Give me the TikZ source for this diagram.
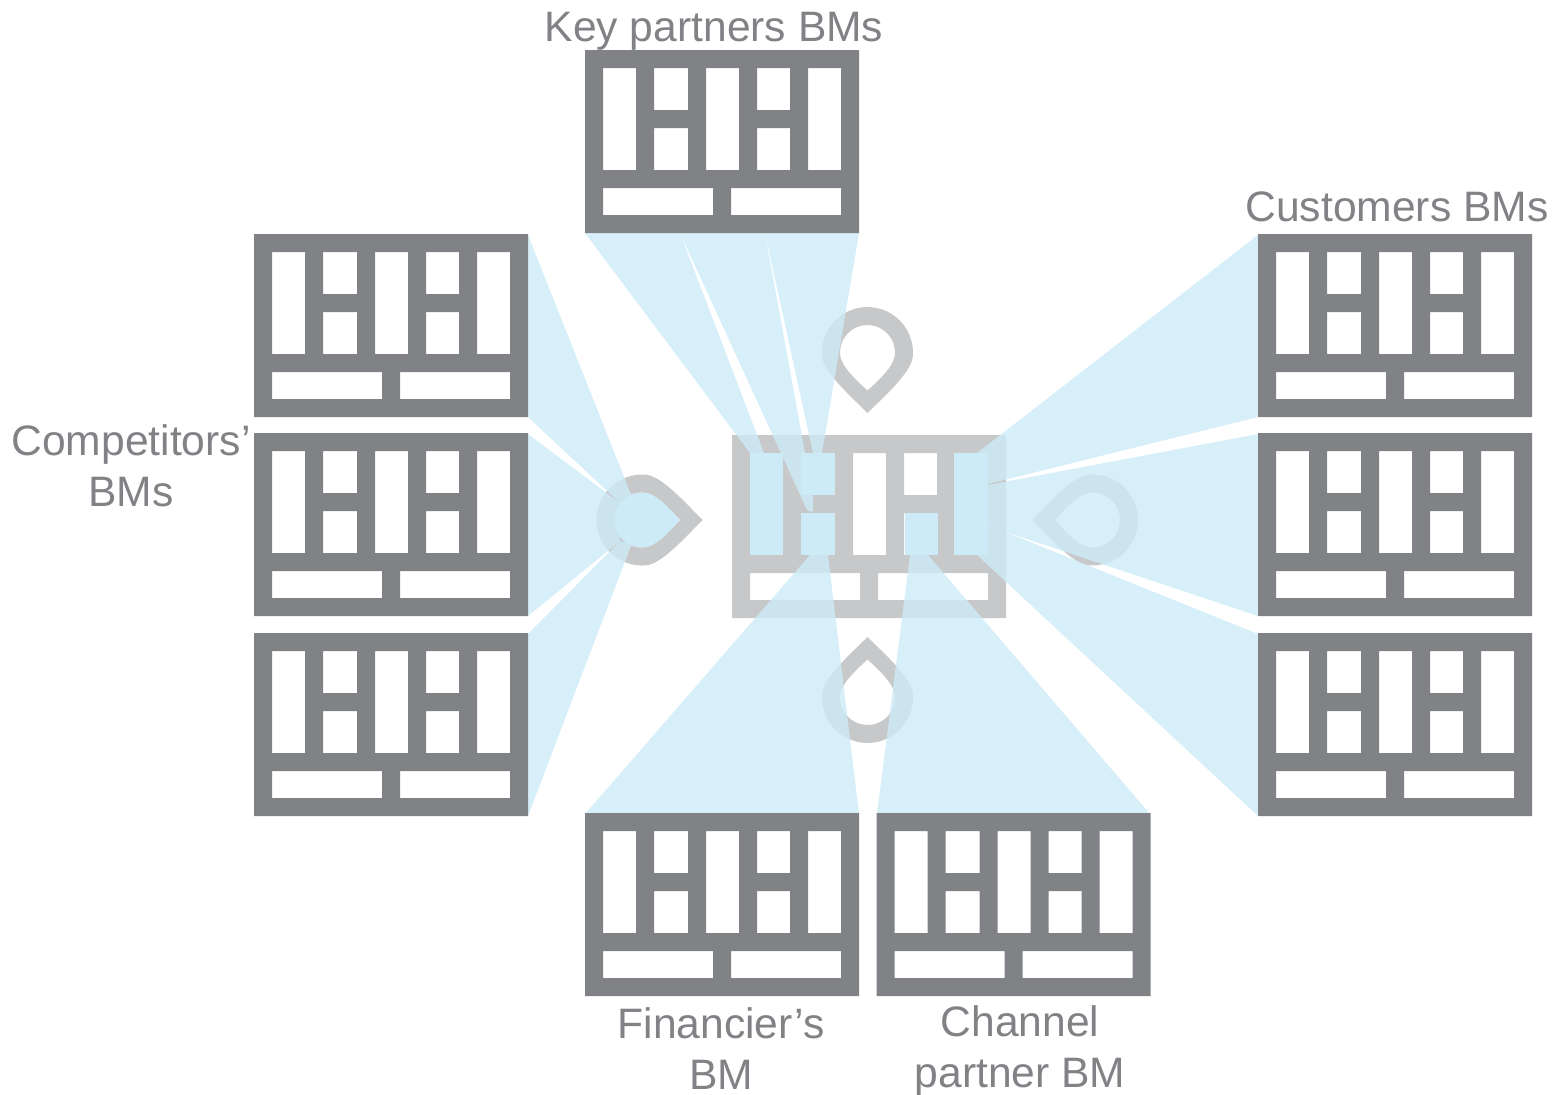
\documentclass[tikz,border=0pt]{standalone}
\usepackage{fontspec}
\setmainfont{Liberation Sans}
\definecolor{bmdark}{HTML}{808285}
\definecolor{bmlight}{HTML}{C7C8CA}
\definecolor{bmblue}{HTML}{CDEBF7}

\begin{document}
\begin{tikzpicture}[
    x=0.5pt, y=-0.5pt,
    fan/.style  = {fill=bmblue, fill opacity=0.8},
    hot/.style  = {fill=bmblue},
    lab/.style  = {font=\fontsize{21.3}{25.5}\selectfont, text=bmdark, align=center, inner sep=0pt},
    pics/bm/.style = {code={
      \fill[#1, even odd rule] (0,0) rectangle (274,183)
        (18,18) rectangle (51,120)
        (69,18) rectangle (103,60) (69,78) rectangle (103,120)
        (121,18) rectangle (154,120)
        (172,18) rectangle (205,60) (172,78) rectangle (205,120)
        (223,18) rectangle (256,120)
        (18,138) rectangle (128,165) (146,138) rectangle (256,165);
    }},
    pics/pin/.style = {code={
      \fill[bmlight, even odd rule]
        (60.5,0) .. controls (44,-16.5) and (20,-43.9) .. (4,-45.3)
        arc[start angle=85, end angle=275, radius=22.75pt]
        .. controls (20,43.9) and (44,16.5) .. (60.5,0) -- cycle
        (38,0) .. controls (28,-11) and (14,-26.3) .. (2.4,-27.4)
        arc[start angle=85, end angle=275, radius=13.75pt]
        .. controls (14,26.3) and (28,11) .. (38,0) -- cycle;
    }}
  ]
  \useasboundingbox (0,0) rectangle (1552,1094);

  % --- centre model and its four pins ---
  \pic (centre) at (732,435) {bm=bmlight};
  \pic[rotate=-90] (pintop) at (867.5,352.5) {pin};
  \pic[rotate=90]  (pinbot) at (867.5,697.5) {pin};
  \pic[rotate=0]   (pinleft) at (642,520) {pin};
  \pic[rotate=180] (pinright) at (1092.5,520) {pin};

  % --- fans (top) ---
  \fill[fan] (585,233) -- (680,233) -- (764,453) -- (750,453) -- cycle;
  \fill[fan] (680,233) -- (765,233) -- (805,453) -- (813,453) -- (813,512) -- (807,510) -- cycle;
  \fill[fan] (765,233) -- (859,233) -- (822,453) -- (813,453) -- cycle;

  % --- fans (left) ---
  \fill[fan] (528,235) -- (528,417) -- (620,503) -- (632,497) -- cycle;
  \fill[fan] (528,434) -- (528,616) -- (620,541) -- (620,503) -- cycle;
  \fill[fan] (528,634) -- (528,816) -- (632,543) -- (620,541) -- cycle;

  % --- fans (right) ---
  \fill[fan] (1258,235) -- (1258,417) -- (988,484) -- (977,453) -- cycle;
  \fill[fan] (1258,434) -- (1258,616) -- (988,526) -- (988,485) -- cycle;
  \fill[fan] (1258,634) -- (1258,816) -- (977,555) -- (988,525) -- cycle;

  % --- fans (bottom) ---
  \fill[fan] (585,814) -- (859,814) -- (828,555) -- (810,555) -- cycle;
  \fill[fan] (877,814) -- (1150,814) -- (928,555) -- (910,555) -- cycle;

  % --- highlighted cells ---
  \fill[hot] (750,453) rectangle (783,555);
  \fill[hot] (801,453) rectangle (835,495);
  \fill[hot] (801,513) rectangle (835,555);
  \fill[hot] (905,513) rectangle (938,555);
  \fill[hot] (954,453) rectangle (988,555);
  \fill[hot] (680,520) .. controls (670,509) and (656,493.7) .. (644.4,492.6)
    arc[start angle=85, end angle=275, radius=13.75pt]
    .. controls (656,546.3) and (670,531) .. (680,520) -- cycle;

  % --- surrounding models ---
  \pic (key) at (585,50) {bm=bmdark};
  \pic (comp1) at (254,234) {bm=bmdark};
  \pic (comp2) at (254,433) {bm=bmdark};
  \pic (comp3) at (254,633) {bm=bmdark};
  \pic (cust1) at (1258,234) {bm=bmdark};
  \pic (cust2) at (1258,433) {bm=bmdark};
  \pic (cust3) at (1258,633) {bm=bmdark};
  \pic (fin) at (585,813) {bm=bmdark};
  \pic (chan) at (876.5,813) {bm=bmdark};

  % --- captions ---
  \node[lab] (keylab) at (714,31) {Key partners BMs};
  \node[lab] (custlab) at (1397,207) {Customers BMs};
  \node[lab] (complab) at (131,466) {Competitors’\\BMs};
  \node[lab] (finlab) at (721,1049) {Financier’s\\BM};
  \node[lab] (chanlab) at (1020,1051) {Channel\\partner BM};

\end{tikzpicture}
\end{document}
